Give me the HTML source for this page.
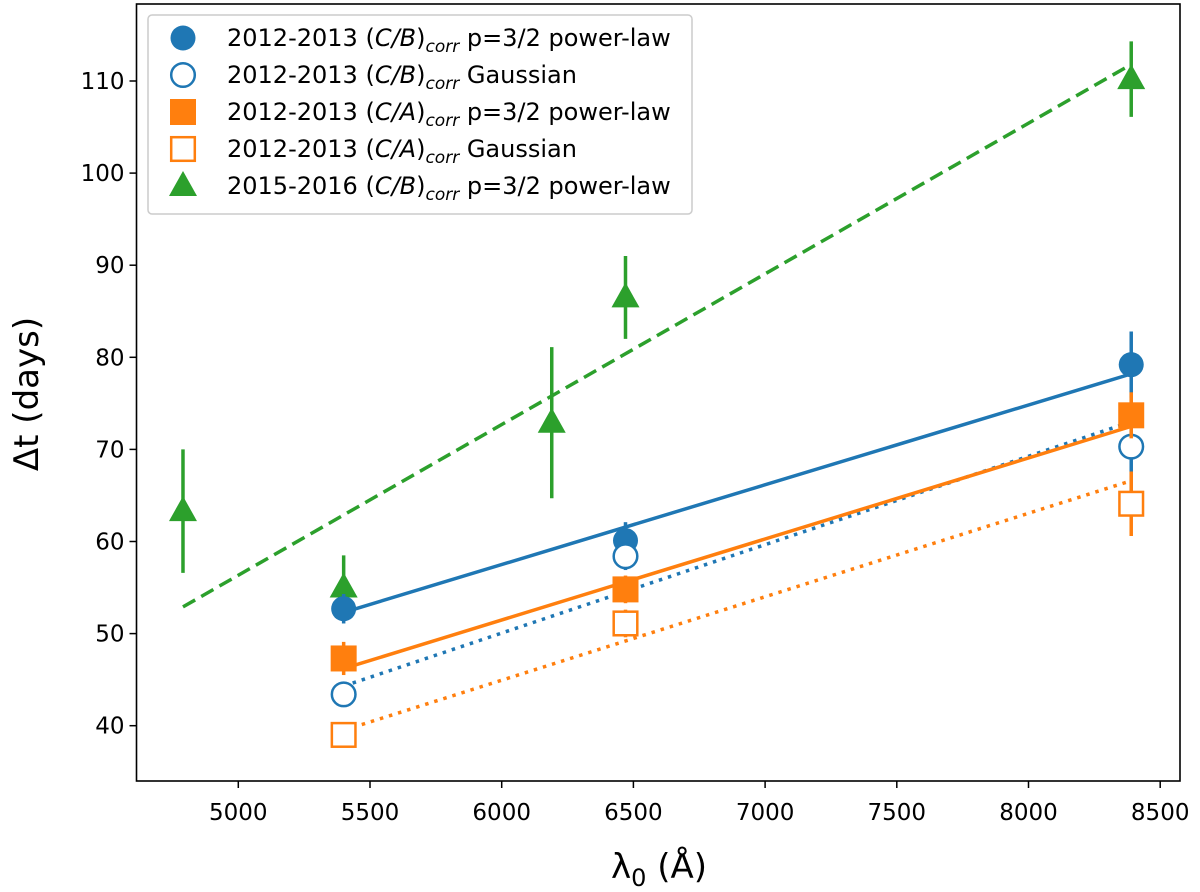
<!DOCTYPE html>
<html><head><meta charset="utf-8"><style>
body{margin:0;background:#fff}
svg{display:block;font-family:"DejaVu Sans","Liberation Sans",sans-serif}
</style></head><body>
<svg id="chart" width="1200" height="892"></svg>
<script>
const xTicks=[5000,5500,6000,6500,7000,7500,8000,8500];
const yTicks=[40,50,60,70,80,90,100,110];
const lamA=[5400,6470,8390];
const cbPow=[52.7,60.1,79.2]; const cbPowErr=[1.6,2.0,3.6];
const cbGau=[43.4,58.4,70.3]; const cbGauErr=[1.2,1.5,6.0];
const caPow=[47.3,54.8,73.7]; const caPowErr=[1.8,1.5,2.5];
const caGau=[39.0,51.1,64.1]; const caGauErr=[1.0,1.5,3.5];
const lamG=[4790,5400,6190,6470,8390];
const gPow=[63.3,55.0,72.9,86.5,110.2]; const gPowErr=[6.7,3.5,8.2,4.5,4.1];
const fitCbPow=[52.3,78.2]; const fitCbGau=[44.3,73.0];
const fitCaPow=[46.2,72.5]; const fitCaGau=[39.5,66.6];
const fitG=[52.9,111.8]; const fitGLam=[4790,8390]; const fitLam=[5400,8390];

const L=136.5,R=1180,T=4,B=781;
const X=v=>238.3+(v-5000)/500*131.7;
const Y=v=>725.7-(v-40)/10*92.1;
const NS="http://www.w3.org/2000/svg";
const svg=document.getElementById('chart');
function el(t,a,p){const e=document.createElementNS(NS,t);for(const k in a)e.setAttribute(k,a[k]);(p||svg).appendChild(e);return e;}
const blue="#1f77b4",orange="#ff7f0e",green="#2ca02c";

const frame=el('rect',{x:L,y:T,width:R-L,height:B-T,fill:'none',stroke:'#000','stroke-width':1.6});


xTicks.forEach(v=>{
 el('line',{x1:X(v),x2:X(v),y1:B,y2:B+7,stroke:'#000','stroke-width':1.5});
 const t=el('text',{x:X(v),y:B+39,'text-anchor':'middle','font-size':23});t.textContent=v;
 
 
});
yTicks.forEach(v=>{
 el('line',{x1:L-7,x2:L,y1:Y(v),y2:Y(v),stroke:'#000','stroke-width':1.5});
 const t=el('text',{x:L-12,y:Y(v)+8,'text-anchor':'end','font-size':23});t.textContent=v;
 
 
});
const xl=el('text',{x:659,y:878,'text-anchor':'middle','font-size':34});xl.innerHTML='λ<tspan font-size="24" dy="8">0</tspan><tspan dy="-8"> (Å)</tspan>';


const yl=el('text',{x:0,y:0,'text-anchor':'middle','font-size':34,transform:'translate(38,394) rotate(-90)'});yl.textContent='Δt (days)';



function fit(xs,ys,c,dash,name){const l=el('line',{x1:X(xs[0]),y1:Y(ys[0]),x2:X(xs[1]),y2:Y(ys[1]),stroke:c,'stroke-width':3.5,'stroke-dasharray':dash});
 
 }
fit(fitGLam,fitG,green,'14,7','fit-green-dashed');
fit(fitLam,fitCbPow,blue,'none','fit-cb-powerlaw');
fit(fitLam,fitCbGau,blue,'3.5,6','fit-cb-gaussian');
fit(fitLam,fitCaPow,orange,'none','fit-ca-powerlaw');
fit(fitLam,fitCaGau,orange,'3.5,6','fit-ca-gaussian');

function marker(type,cx,cy,c,filled,g){
 if(type==='circle')return el('circle',{cx,cy,r:filled?12.5:11.8,fill:filled?c:'#fff',stroke:c,'stroke-width':filled?0:2.5},g);
 if(type==='square')return filled?el('rect',{x:cx-13,y:cy-13,width:26,height:26,fill:c},g):el('rect',{x:cx-11.8,y:cy-11.8,width:23.6,height:23.6,fill:'#fff',stroke:c,'stroke-width':2.5},g);
 return el('polygon',{points:`${cx},${cy-15} ${cx+14},${cy+10} ${cx-14},${cy+10}`,fill:c},g);
}
function series(xs,ys,es,c,type,filled,name){
 xs.forEach((x,i)=>{
  el('line',{x1:X(x),x2:X(x),y1:Y(ys[i]-es[i]),y2:Y(ys[i]+es[i]),stroke:c,'stroke-width':3.5});
  const m=marker(type,X(x),Y(ys[i]),c,filled);
  
  
 });
}
series(lamG,gPow,gPowErr,green,'tri',true,'point-2015-cb-powerlaw');
series(lamA,cbPow,cbPowErr,blue,'circle',true,'point-cb-powerlaw');
series(lamA,cbGau,cbGauErr,blue,'circle',false,'point-cb-gaussian');
series(lamA,caPow,caPowErr,orange,'square',true,'point-ca-powerlaw');
series(lamA,caGau,caGauErr,orange,'square',false,'point-ca-gaussian');

const lg=el('g',{});


el('rect',{x:148,y:15,width:544,height:199,rx:4,fill:'#fff','fill-opacity':0.85,stroke:'#ccc','stroke-width':1.5},lg);
const entries=[['circle',blue,true,'C/B','p=3/2 power-law','2012-2013'],['circle',blue,false,'C/B','Gaussian','2012-2013'],['square',orange,true,'C/A','p=3/2 power-law','2012-2013'],['square',orange,false,'C/A','Gaussian','2012-2013'],['tri',green,true,'C/B','p=3/2 power-law','2015-2016']];
entries.forEach((e,i)=>{
 const y=38+i*37;
 marker(e[0],183,y,e[1],e[2],lg);
 const t=el('text',{x:227,y:y+8,'font-size':24},lg);
 t.innerHTML=`${e[5]} (<tspan font-style="italic">${e[3]}</tspan>)<tspan font-size="17" font-style="italic" dy="6">corr</tspan><tspan dy="-6"> ${e[4]}</tspan>`;
 
 
});
</script>
</body></html>
